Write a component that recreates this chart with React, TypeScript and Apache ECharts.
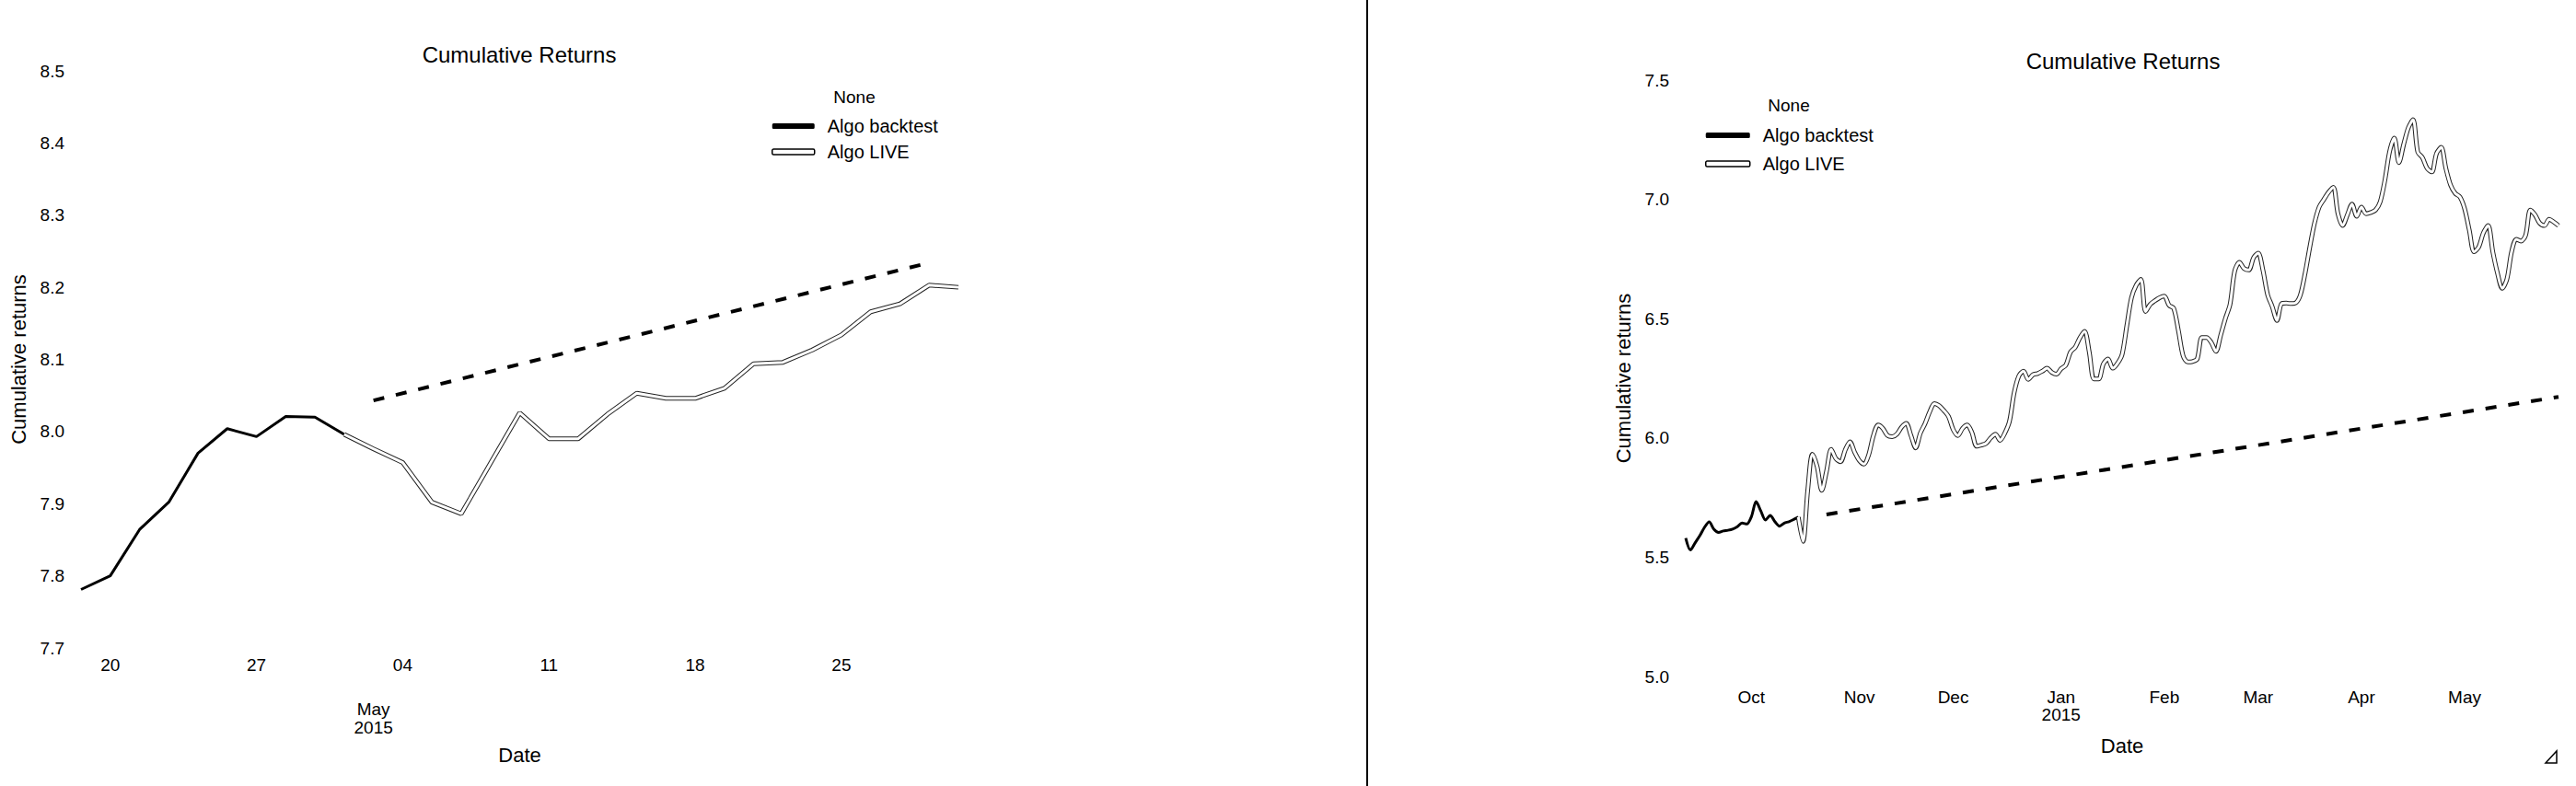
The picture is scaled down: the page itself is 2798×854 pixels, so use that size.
import React, { useEffect, useRef } from 'react';
import * as echarts from 'echarts';

const FONT = '"Liberation Sans", Arial, Helvetica, sans-serif';

// business-day calendar (pandas "B" frequency) used as category axis
function businessDays(start: string, end: string): string[] {
  const out: string[] = [];
  const d = new Date(start + 'T00:00:00Z');
  const e = new Date(end + 'T00:00:00Z');
  while (d <= e) {
    const wd = d.getUTCDay();
    if (wd !== 0 && wd !== 6) out.push(d.toISOString().slice(0, 10));
    d.setUTCDate(d.getUTCDate() + 1);
  }
  return out;
}

// ---------- Left chart (zoomed: Apr 17 – May 29, 2015) ----------
const leftDates = businessDays('2015-04-17', '2015-05-29');
const leftBacktest = [7.781, 7.8, 7.864, 7.902, 7.97, 8.004, 7.993, 8.021, 8.02, 7.996];
const leftLiveStart = '2015-04-30';
const leftLive = [
  7.996, 7.976, 7.957, 7.902, 7.886, 7.956, 8.026, 7.99, 7.99, 8.024,
  8.053, 8.046, 8.046, 8.06, 8.094, 8.096, 8.113, 8.134, 8.166, 8.177,
  8.203, 8.2,
];
const leftConeDates = ['2015-05-01', '2015-05-28'];
const leftCone = [8.043, 8.234];
const leftWeekTicks = ['2015-04-20', '2015-04-27', '2015-05-04', '2015-05-11', '2015-05-18', '2015-05-25'];
const leftWeekLabels = ['20', '27', '04', '11', '18', '25'];
const leftMonthTick = '2015-05-01';
const leftMonthLabel = 'May\n2015';

// ---------- Right chart (full: Sep 11, 2014 – May 29, 2015) ----------
const rightDates = businessDays('2014-09-11', '2015-05-29');
const rightBacktest = [
  5.58, 5.53, 5.56, 5.59, 5.625, 5.648, 5.617, 5.604, 5.61, 5.613,
  5.618, 5.628, 5.643, 5.639, 5.67, 5.733, 5.694, 5.656, 5.675, 5.649,
  5.63, 5.643, 5.649, 5.658, 5.668,
];
const rightLiveStart = '2014-10-15';
const rightLive = [
  5.668, 5.566, 5.78, 5.932, 5.88, 5.78, 5.86, 5.952, 5.913, 5.9,
  5.95, 5.984, 5.94, 5.905, 5.89, 5.93, 6.01, 6.054, 6.04, 6.01,
  6.005, 6.016, 6.045, 6.061, 6.01, 5.958, 6.02, 6.06, 6.11, 6.144,
  6.135, 6.115, 6.09, 6.035, 6.01, 6.04, 6.054, 6.022, 5.965, 5.97,
  5.977, 6.0, 6.016, 5.99, 6.02, 6.07, 6.19, 6.26, 6.28, 6.245,
  6.265, 6.27, 6.28, 6.292, 6.275, 6.267, 6.29, 6.305, 6.36, 6.38,
  6.42, 6.447, 6.36, 6.247, 6.247, 6.31, 6.331, 6.292, 6.312, 6.35,
  6.47, 6.588, 6.64, 6.665, 6.53, 6.56, 6.575, 6.588, 6.594, 6.556,
  6.543, 6.45, 6.344, 6.318, 6.32, 6.331, 6.421, 6.421, 6.4, 6.363,
  6.43, 6.5, 6.56, 6.7, 6.736, 6.71, 6.704, 6.755, 6.775, 6.704,
  6.601, 6.55, 6.492, 6.563, 6.565, 6.563, 6.566, 6.6, 6.69, 6.8,
  6.9, 6.968, 7.0, 7.03, 7.051, 6.94, 6.89, 6.935, 6.98, 6.929,
  6.968, 6.94, 6.945, 6.955, 6.99, 7.08, 7.2, 7.257, 7.154, 7.23,
  7.3, 7.334, 7.199, 7.175, 7.13, 7.115, 7.192, 7.218, 7.13, 7.06,
  7.025, 7.01, 6.96, 6.87, 6.78, 6.8, 6.86, 6.89, 6.78, 6.69,
  6.627, 6.665, 6.78, 6.833, 6.825, 6.85, 6.955, 6.935, 6.9, 6.89,
  6.916, 6.905, 6.89,
];
const rightConeDates = ['2014-10-23', '2015-05-29'];
const rightCone = [5.679, 6.172];
const rightMonthTicks = ['2014-10-01', '2014-11-03', '2014-12-01', '2015-01-01', '2015-02-02', '2015-03-02', '2015-04-01', '2015-05-01'];
const rightMonthLabels = ['Oct', 'Nov', 'Dec', 'Jan\n2015', 'Feb', 'Mar', 'Apr', 'May'];

const titleText = 'Cumulative Returns';
const yName = 'Cumulative returns';
const xName = 'Date';
const legendTitle = 'None';
const seriesNames = ['Algo backtest', 'Algo LIVE'];

function pairs(dates: string[], start: string, vals: number[]) {
  const s = dates.indexOf(start);
  return vals.map((v, k) => [dates[s + k], v]);
}

function buildOption() {
  const txt = { color: '#000', fontFamily: FONT };
  const lineAxisCommon = {
    axisLine: { show: false },
    axisTick: { show: false },
    splitLine: { show: false },
  };
  const legendData = [
    { name: seriesNames[0], icon: 'roundRect', itemStyle: { color: '#000', borderWidth: 0 } },
    { name: seriesNames[1], icon: 'roundRect', itemStyle: { color: '#fff', borderColor: '#000', borderWidth: 1.5 } },
  ];
  const makeSeries = (xi: number, bt: any[], live: any[], cone: any[], smooth: number) => [
    {
      name: seriesNames[0], type: 'line', xAxisIndex: xi, yAxisIndex: xi === 0 ? 0 : 1,
      data: bt, showSymbol: false, symbol: 'none', smooth,
      lineStyle: { color: '#000', width: 3 }, itemStyle: { color: '#000' }, z: 3,
    },
    {
      name: 'cone', type: 'line', xAxisIndex: xi, yAxisIndex: xi === 0 ? 0 : 1,
      data: cone, showSymbol: false, symbol: 'none',
      lineStyle: { color: '#000', width: 4, type: [12, 13] }, z: 2,
    },
    {
      name: seriesNames[1], type: 'line', xAxisIndex: xi, yAxisIndex: xi === 0 ? 0 : 1,
      data: live, showSymbol: false, symbol: 'none', smooth,
      lineStyle: { color: '#222', width: 5 }, itemStyle: { color: '#000' }, z: 4,
    },
    {
      name: 'live-inner', type: 'line', xAxisIndex: xi, yAxisIndex: xi === 0 ? 0 : 1,
      data: live, showSymbol: false, symbol: 'none', smooth,
      lineStyle: { color: '#fff', width: 3 }, z: 5,
    },
  ];

  return {
    animation: false,
    backgroundColor: '#fff',
    textStyle: { fontFamily: FONT, color: '#000' },
    grid: [
      { left: 88, top: 77, width: 953, height: 627 },
      { left: 1831, top: 87, width: 948, height: 648 },
    ],
    xAxis: [
      {
        gridIndex: 0, type: 'category', data: leftDates, boundaryGap: false, position: 'bottom',
        ...lineAxisCommon,
        name: xName, nameLocation: 'middle', nameGap: 105,
        nameTextStyle: { ...txt, fontSize: 22 },
        axisLabel: {
          ...txt, fontSize: 19, lineHeight: 20, interval: 0, margin: 8,
          formatter: (v: string) => { const k = leftWeekTicks.indexOf(v); return k >= 0 ? leftWeekLabels[k] : ''; },
        },
      },
      {
        gridIndex: 0, type: 'category', data: leftDates, boundaryGap: false, position: 'bottom',
        ...lineAxisCommon,
        axisLabel: {
          ...txt, fontSize: 19, lineHeight: 20, interval: 0, margin: 56,
          formatter: (v: string) => (v === leftMonthTick ? leftMonthLabel : ''),
        },
      },
      {
        gridIndex: 1, type: 'category', data: rightDates, boundaryGap: false, position: 'bottom',
        ...lineAxisCommon,
        name: xName, nameLocation: 'middle', nameGap: 64,
        nameTextStyle: { ...txt, fontSize: 22 },
        axisLabel: {
          ...txt, fontSize: 19, lineHeight: 19, interval: 0, margin: 13,
          formatter: (v: string) => { const k = rightMonthTicks.indexOf(v); return k >= 0 ? rightMonthLabels[k] : ''; },
        },
      },
    ],
    yAxis: [
      {
        gridIndex: 0, type: 'value', min: 7.7, max: 8.5, interval: 0.1,
        ...lineAxisCommon,
        name: yName, nameLocation: 'middle', nameRotate: 90, nameGap: 57,
        nameTextStyle: { ...txt, fontSize: 22 },
        axisLabel: { ...txt, fontSize: 19, margin: 18, formatter: (v: number) => v.toFixed(1) },
      },
      {
        gridIndex: 1, type: 'value', min: 5, max: 7.5, interval: 0.5,
        ...lineAxisCommon,
        name: yName, nameLocation: 'middle', nameRotate: 90, nameGap: 57,
        nameTextStyle: { ...txt, fontSize: 22 },
        axisLabel: { ...txt, fontSize: 19, margin: 18, formatter: (v: number) => v.toFixed(1) },
      },
    ],
    legend: [
      {
        left: 833, top: 122, orient: 'vertical', itemWidth: 46, itemHeight: 6, itemGap: 8,
        selectedMode: false, data: legendData,
        textStyle: { ...txt, fontSize: 20, lineHeight: 20, padding: [0, 0, 0, 9] },
      },
      {
        left: 1847, top: 132, orient: 'vertical', itemWidth: 48, itemHeight: 6, itemGap: 11,
        selectedMode: false, data: legendData,
        textStyle: { ...txt, fontSize: 20, lineHeight: 20, padding: [0, 0, 0, 9] },
      },
    ],
    graphic: [
      { type: 'line', shape: { x1: 1485, y1: 0, x2: 1485, y2: 854 }, style: { stroke: '#000', lineWidth: 2 } },
      { type: 'text', x: 564, y: 59, style: { text: titleText, fontSize: 24, fontFamily: FONT, fill: '#000', align: 'center', verticalAlign: 'middle' } },
      { type: 'text', x: 2306, y: 66, style: { text: titleText, fontSize: 24, fontFamily: FONT, fill: '#000', align: 'center', verticalAlign: 'middle' } },
      { type: 'text', x: 928, y: 105, style: { text: legendTitle, fontSize: 19, fontFamily: FONT, fill: '#000', align: 'center', verticalAlign: 'middle' } },
      { type: 'text', x: 1943, y: 114, style: { text: legendTitle, fontSize: 19, fontFamily: FONT, fill: '#000', align: 'center', verticalAlign: 'middle' } },
      { type: 'polygon', shape: { points: [[2765, 829], [2777, 816], [2777, 829]] }, style: { fill: 'none', stroke: '#000', lineWidth: 1.5 } },
    ],
    series: [
      ...makeSeries(0, leftBacktest, pairs(leftDates, leftLiveStart, leftLive), leftConeDates.map((d, k) => [d, leftCone[k]]), 0),
      ...makeSeries(2, rightBacktest, pairs(rightDates, rightLiveStart, rightLive), rightConeDates.map((d, k) => [d, rightCone[k]]), 0.3),
    ],
  };
}

export default function App() {
  const ref = useRef<HTMLDivElement>(null);
  useEffect(() => {
    if (!ref.current) return;
    const chart = echarts.init(ref.current, undefined, { renderer: 'svg' });
    chart.setOption(buildOption() as any);
    return () => chart.dispose();
  }, []);
  return (
    <div
      ref={ref}
      style={{ position: 'fixed', left: 0, top: 0, width: '2798px', height: '854px', background: '#fff' }}
    />
  );
}
